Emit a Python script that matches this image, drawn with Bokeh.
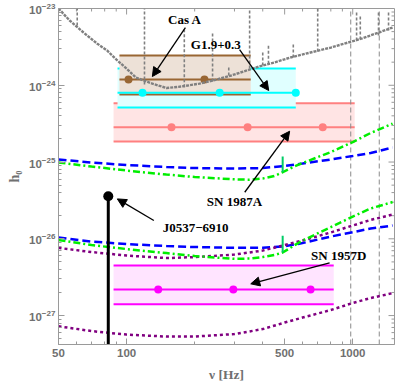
import math
from bokeh.plotting import figure
from bokeh.models import (Arrow, NormalHead, FixedTicker, PrintfTickFormatter, Range1d)
from bokeh.embed import file_html
from bokeh.resources import INLINE
from bokeh.core.properties import value

# ---------------- data ----------------
x_min, x_max = 50, 1530
y_min, y_max = 4.2e-28, 1e-23

curve_freq = [50, 70, 100, 150, 200, 300, 400, 500, 600, 800, 1000, 1200, 1500]
blue_upper = [1.08e-25, 9.85e-26, 9.14e-26, 8.61e-26, 8.35e-26, 8.23e-26, 8.35e-26,
              8.87e-26, 9.56e-26, 1.08e-25, 1.20e-25, 1.31e-25, 1.55e-25]
blue_lower = [1.04e-26, 9.21e-27, 8.54e-27, 8.04e-27, 7.81e-27, 7.64e-27, 7.64e-27,
              8.00e-27, 8.80e-27, 1.07e-26, 1.22e-26, 1.36e-26, 1.49e-26]
purple_upper = [7.62e-27, 6.72e-27, 6.05e-27, 5.61e-27, 5.78e-27, 6.23e-27, 7.03e-27,
                8.29e-27, 9.49e-27, 1.21e-26, 1.49e-26, 1.76e-26, 2.07e-26]
purple_lower = [7.25e-28, 6.28e-28, 5.65e-28, 5.33e-28, 5.33e-28, 5.74e-28, 6.67e-28,
                8.11e-28, 9.42e-28, 1.18e-27, 1.46e-27, 1.69e-27, 1.96e-27]

green_freq = [50, 70, 100, 150, 200, 300, 350, 400, 450, 490, 550, 600, 800, 1000, 1200, 1500]
green_upper = [9.85e-26, 8.74e-26, 7.75e-26, 6.87e-26, 6.38e-26, 5.95e-26, 5.88e-26, 6.10e-26,
               6.57e-26, 7.36e-26, 8.74e-26, 9.70e-26, 1.35e-25, 1.82e-25, 2.39e-25, 3.17e-25]
green_lower = [9.63e-27, 8.29e-27, 7.35e-27, 6.52e-27, 5.96e-27, 5.48e-27, 5.53e-27, 5.78e-27,
               6.14e-27, 6.62e-27, 8.17e-27, 9.49e-27, 1.42e-26, 1.95e-26, 2.48e-26, 3.01e-26]
green_spike_freq = 490
green_spike_upper = [7.36e-26, 1.18e-25]
green_spike_lower = [6.62e-27, 1.10e-26]

ligo_freq = [50, 56, 64.5, 74, 82, 90, 100, 110, 130, 150, 175, 210, 240, 290, 340, 360,
             400, 450, 530, 650, 800, 1100, 1500]
ligo_h = [1.00e-23, 6.98e-24, 4.87e-24, 3.50e-24, 2.84e-24, 2.17e-24, 1.65e-24, 1.26e-24,
          1.05e-24, 9.21e-25, 9.63e-25, 1.05e-24, 1.15e-24, 1.34e-24, 1.56e-24, 1.65e-24,
          1.81e-24, 1.98e-24, 2.30e-24, 2.67e-24, 3.10e-24, 4.07e-24, 5.65e-24]
line_freq = [60.5, 120, 180, 240, 283, 350, 400, 424, 546, 700, 1040, 1080, 1300, 1440]
line_top = [1.0e-23, 1.0e-23, 5.65e-24, 4.72e-24, 1.81e-24, 1.0e-23, 2.84e-24, 3.30e-24,
            3.50e-24, 1.0e-23, 9.4e-24, 8.1e-24, 8.87e-24, 9.4e-24]
line_bot = [6.0e-24, 1.02e-24, 9.4e-25, 1.12e-24, 1.34e-24, 1.65e-24, 1.81e-24, 1.90e-24,
            2.30e-24, 2.75e-24, 3.83e-24, 3.95e-24, 4.45e-24, 5.17e-24]
vline_freq = [980, 1310]

# boxes: [f_left, f_right], [h_low, h_mid, h_high], dot frequencies
sn1987a_f = [87.6, 1020]
sn1987a_h = [1.85e-25, 2.84e-25, 5.84e-25]
sn1987a_dots = [158, 343, 737]
g19_f = [91.2, 560]
g19_h = [5.13e-25, 7.97e-25, 1.65e-24]
g19_dots = [117.6, 258, 560]
casa_f = [93, 354]
casa_h = [7.58e-25, 1.19e-24, 2.44e-24]
casa_dots = [102, 221]
sn1957d_f = [87.6, 824]
sn1957d_h = [1.40e-27, 2.18e-27, 4.48e-27]
sn1957d_dots = [138, 296.5, 651]

j0537_f = 83
j0537_h = 3.58e-26

ann_text = ["Cas A", "G1.9+0.3", "SN 1987A", "J0537\u22126910", "SN 1957D"]
ann_f = [181, 248, 300, 202, 867]
ann_h = [7.12e-24, 3.40e-24, 3.08e-26, 1.39e-26, 6.05e-27]
arrow_start_f = [182, 316, 333, 132, 790]
arrow_start_h = [5.65e-24, 2.92e-24, 4.04e-26, 1.73e-26, 4.85e-27]
arrow_end_f = [130, 425, 526, 91, 354]
arrow_end_h = [1.30e-24, 8.54e-25, 2.52e-25, 3.31e-26, 2.59e-27]

x_ticks = [50, 100, 500, 1000]
x_minor = [60, 70, 80, 90, 200, 300, 400, 600, 700, 800, 900]
y_ticks = [1e-27, 1e-26, 1e-25, 1e-24, 1e-23]
y_minor = [m * d for d in [1e-28, 1e-27, 1e-26, 1e-25, 1e-24] for m in range(2, 10)]
x_label = "\u03bd [Hz]"
y_label = "h\u2080"

# ---------------- figure ----------------
GRAY = "#9a9a9a"
LABEL_GRAY = "#707070"
FRAME_W, FRAME_H = 336, 336

p = figure(width=400, height=388, x_axis_type="log", y_axis_type="log",
           x_range=Range1d(x_min, x_max), y_range=Range1d(y_min, y_max),
           output_backend="svg", toolbar_location=None,
           min_border_left=58, min_border_right=6, min_border_top=8, min_border_bottom=44)
p.background_fill_color = "white"
p.border_fill_color = "white"
p.outline_line_color = GRAY
p.xgrid.visible = False
p.ygrid.visible = False

p.xaxis.ticker = FixedTicker(ticks=x_ticks, minor_ticks=x_minor)
p.xaxis.formatter = PrintfTickFormatter(format="%d")
p.yaxis.ticker = FixedTicker(ticks=y_ticks, minor_ticks=y_minor)
for ax in [p.xaxis[0], p.yaxis[0]]:
    ax.axis_line_color = GRAY
    ax.major_tick_line_color = GRAY
    ax.minor_tick_line_color = GRAY
    ax.major_tick_in = 6
    ax.major_tick_out = 0
    ax.minor_tick_in = 3
    ax.minor_tick_out = 0
    ax.major_label_text_font = "Liberation Sans"
    ax.major_label_text_font_style = "bold"
    ax.major_label_text_font_size = "11.5px"
    ax.major_label_text_color = LABEL_GRAY
    ax.axis_label_text_font = "Liberation Serif"
    ax.axis_label_text_font_style = "bold"
    ax.axis_label_text_color = LABEL_GRAY
p.xaxis.major_label_standoff = 4
p.yaxis.major_label_standoff = 3
p.xaxis.axis_label = x_label
p.xaxis.axis_label_text_font_size = "13.5px"
p.xaxis.axis_label_standoff = 7
p.yaxis.axis_label = y_label
p.yaxis.axis_label_text_font_size = "14px"
p.yaxis.axis_label_standoff = 4

# frame ticks on the right and top edges (lengths in pixels turned into log factors)
x_px_per_dec = FRAME_W / math.log10(x_max / x_min)
y_px_per_dec = FRAME_H / math.log10(y_max / y_min)
for ticks, length in [(y_ticks, 6), (y_minor, 3)]:
    inner = x_max / 10 ** (length / x_px_per_dec)
    tk = [t for t in ticks if y_min < t < y_max]
    p.segment(x0=[inner] * len(tk), x1=[x_max] * len(tk), y0=tk, y1=tk,
              line_color=GRAY, line_width=1)
for ticks, length in [(x_ticks, 6), (x_minor, 3)]:
    inner = y_max / 10 ** (length / y_px_per_dec)
    tk = [t for t in ticks if x_min < t < x_max]
    p.segment(x0=tk, x1=tk, y0=[inner] * len(tk), y1=[y_max] * len(tk),
              line_color=GRAY, line_width=1)


def box(f, h, line_color, fill_color, dots, parts=("fill", "edges", "mid")):
    if "fill" in parts:
        p.quad(left=[f[0]], right=[f[1]], bottom=[h[0]], top=[h[2]],
               fill_color=fill_color, line_color=None)
    if "edges" in parts:
        p.segment(x0=[f[0], f[0]], x1=[f[1], f[1]], y0=[h[0], h[2]], y1=[h[0], h[2]],
                  line_color=line_color, line_width=2)
    if "mid" in parts:
        p.segment(x0=[f[0]], x1=[f[1]], y0=[h[1]], y1=[h[1]], line_color=line_color, line_width=2)
        p.scatter(x=dots, y=[h[1]] * len(dots), size=8, marker="circle",
                  fill_color=line_color, line_color=None)


box(sn1987a_f, sn1987a_h, "#FF8080", "#FFE4E4", sn1987a_dots)
box(g19_f, g19_h, "#00FFFF", "#E0FFFF", g19_dots, parts=("fill", "edges"))
box(casa_f, casa_h, "#996633", "#EDE1D7", casa_dots)
box(g19_f, g19_h, "#00FFFF", "#E0FFFF", g19_dots, parts=("mid",))
box(sn1957d_f, sn1957d_h, "#FF00FF", "#FFE4FF", sn1957d_dots)

# reference vertical lines
for vf in vline_freq:
    p.segment(x0=[vf], x1=[vf], y0=[y_min], y1=[y_max], line_color="#8a8a8a",
              line_width=1, line_dash="5 3")

# sensitivity curve
p.segment(x0=line_freq, x1=line_freq, y0=line_bot, y1=line_top, line_color="#808080",
          line_width=1.6, line_dash="3 2")
p.line(ligo_freq, ligo_h, line_color="#808080", line_width=2.4, line_dash="3 1")

# upper limits curves
p.line(curve_freq, blue_upper, line_color="#0000FF", line_width=2.5, line_dash="8 4")
p.line(curve_freq, blue_lower, line_color="#0000FF", line_width=2.5, line_dash="8 4")
p.line(curve_freq, purple_upper, line_color="#800080", line_width=2.5, line_dash="3 3")
p.line(curve_freq, purple_lower, line_color="#800080", line_width=2.5, line_dash="3 3")
p.line(green_freq, green_upper, line_color="#00EE00", line_width=2.5, line_dash="7 3 2 3")
p.line(green_freq, green_lower, line_color="#00EE00", line_width=2.5, line_dash="7 3 2 3")
p.segment(x0=[green_spike_freq] * 2, x1=[green_spike_freq] * 2,
          y0=[green_spike_upper[0], green_spike_lower[0]],
          y1=[green_spike_upper[1], green_spike_lower[1]],
          line_color="#00CC66", line_width=2)

# J0537-6910
p.segment(x0=[j0537_f], x1=[j0537_f], y0=[y_min], y1=[j0537_h], line_color="black", line_width=3)
p.scatter(x=[j0537_f], y=[j0537_h], size=10, marker="circle", fill_color="black", line_color=None)

# arrows and annotations
for xs, ys, xe, ye in zip(arrow_start_f, arrow_start_h, arrow_end_f, arrow_end_h):
    p.add_layout(Arrow(end=NormalHead(size=9, fill_color="black", line_color="black", line_width=1),
                       x_start=xs, y_start=ys, x_end=xe, y_end=ye,
                       line_color="black", line_width=1.3))
p.text(x=ann_f, y=ann_h, text=ann_text, text_font=value("Liberation Serif"),
       text_font_style="bold", text_font_size="13px", text_align="center",
       text_baseline="middle", text_color="black")

open("out.html", "w").write(file_html(p, INLINE))
